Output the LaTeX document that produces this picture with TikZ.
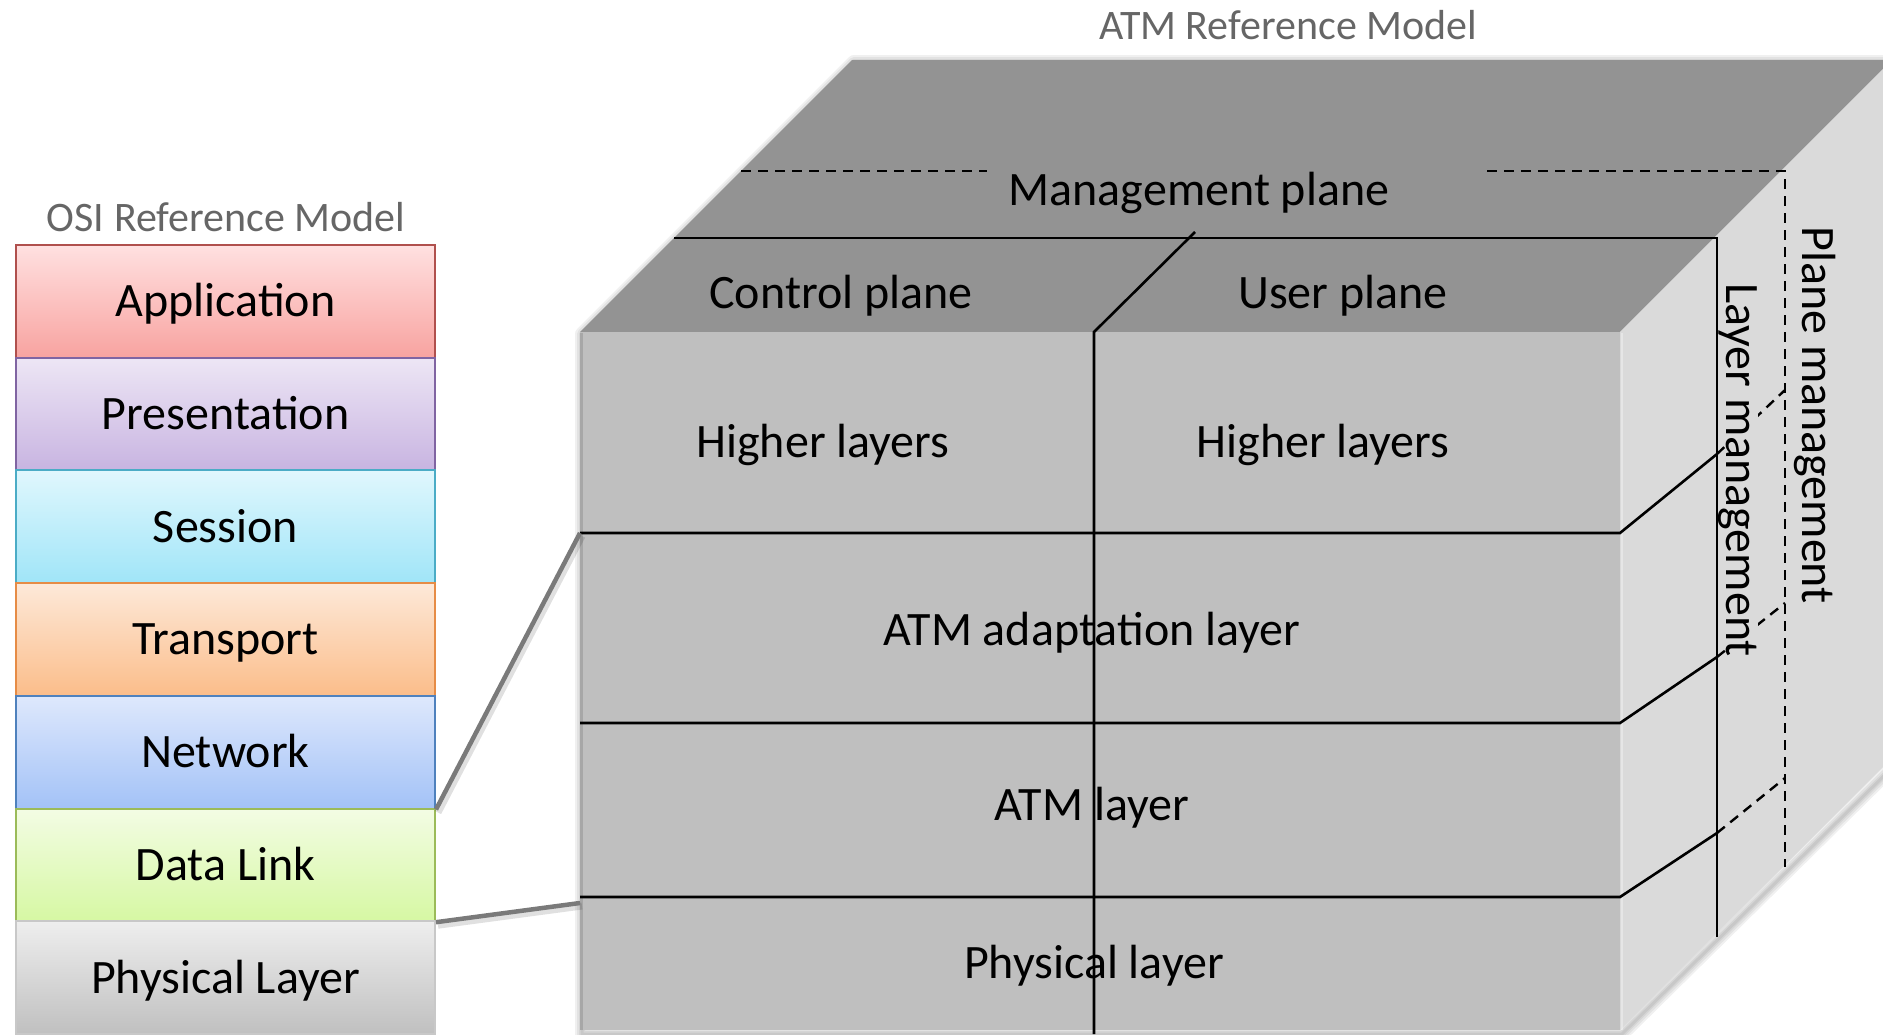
\documentclass[tikz,border=0pt]{standalone}
\usepackage{fontspec}
\setmainfont{Carlito}
\definecolor{topface}{HTML}{939393}
\definecolor{frontface}{HTML}{BFBFBF}
\definecolor{sideface}{HTML}{DADADA}
\definecolor{titlegray}{HTML}{666666}
\begin{document}
\begin{tikzpicture}[x=1pt,y=-1pt,
  lbl/.style={font=\fontsize{48}{58}\selectfont, text height=31pt, text depth=0pt, inner sep=0pt},
  title/.style={font=\fontsize{42}{50}\selectfont, text=titlegray, inner sep=0pt},
  band/.style={lbl, minimum width=419pt, minimum height=112.7pt, line width=2pt},
  edge/.style={line width=2.6pt, black},
  dashline/.style={line width=2.4pt, black, dash pattern=on 10pt off 7pt},
  link/.style={line width=4.5pt, draw=black!52},
  linkshadow/.style={line width=7pt, draw=black, opacity=0.12}]

\useasboundingbox (0,0) rectangle (1883,1034);

% ---------- OSI stack ----------
\node[title] (osititle) at (226,217) {OSI Reference Model};
\node[band, top color=red!12, bottom color={rgb,255:red,248;green,163;blue,160}, draw={rgb,255:red,176;green,80;blue,77}]
  (app) at (225.5,301.35) {Application};
\node[band, top color={rgb,255:red,237;green,230;blue,245}, bottom color={rgb,255:red,200;green,180;blue,225}, draw={rgb,255:red,128;green,100;blue,162}]
  (pres) at (225.5,414.05) {Presentation};
\node[band, top color={rgb,255:red,224;green,247;blue,253}, bottom color={rgb,255:red,160;green,229;blue,248}, draw={rgb,255:red,75;green,172;blue,198}]
  (sess) at (225.5,526.75) {Session};
\node[band, top color={rgb,255:red,253;green,233;blue,217}, bottom color={rgb,255:red,251;green,189;blue,138}, draw={rgb,255:red,230;green,140;blue,70}]
  (trans) at (225.5,639.45) {Transport};
\node[band, top color={rgb,255:red,222;green,232;blue,252}, bottom color={rgb,255:red,163;green,194;blue,247}, draw={rgb,255:red,79;green,129;blue,189}]
  (net) at (225.5,752.15) {Network};
\node[band, top color={rgb,255:red,243;green,252;blue,228}, bottom color={rgb,255:red,214;green,248;blue,163}, draw={rgb,255:red,155;green,187;blue,89}]
  (dl) at (225.5,864.85) {Data Link};
\node[band, top color={rgb,255:red,238;green,238;blue,238}, bottom color={rgb,255:red,192;green,192;blue,192}, draw={rgb,255:red,200;green,200;blue,200}]
  (phys) at (225.5,977.55) {Physical Layer};

% ---------- ATM cube: soft shadow ----------
\foreach \w in {14,10,6,3}
  \draw[black, opacity=0.06, line width=\w pt, line join=round]
    (582,334) -- (854,62) -- (1900,62) -- (1900,760) -- (1622,1034) -- (582,1034) -- cycle;

% ---------- ATM cube: faces ----------
\fill[topface] (580,332) -- (852,60) -- (1892,60) -- (1620,332) -- cycle;
\fill[sideface] (1620,332) -- (1892,60) -- (1892,758) -- (1620,1030) -- cycle;
\fill[frontface] (580,332) rectangle (1620,1030);
\draw[white, opacity=0.35, line width=2pt] (1622,333) -- (1622,1030);
\draw[black, opacity=0.12, line width=3pt] (581,333) -- (581,1030);

% named points of the cube
\coordinate (aal-l) at (580,533);
\coordinate (phy-l) at (580,903);
\coordinate (div-top) at (1094,332);
\coordinate (inner-br) at (1717,238);

% ---------- management plane (dashed back frame) ----------
\draw[dashline] (741,171) -- (987,171);
\draw[dashline] (1487,171) -- (1785,171) -- (1785,867);
\draw[dashline] (1717,454) -- (1785,390);
\draw[dashline] (1717,657) -- (1785,603);
\draw[dashline] (1717,833) -- (1785,778);

% ---------- control / user plane block ----------
\draw[edge] (674,238) -- (inner-br) -- (1717,937);
\draw[edge] (1094,1034) -- (div-top) -- (1195,232);
\draw[edge] (580,533) -- (1620,533) -- (1717,454);
\draw[edge] (580,723) -- (1620,723) -- (1717,657);
\draw[edge] (580,897) -- (1620,897) -- (1717,833);

% ---------- labels on the cube ----------
\node[title] (atmtitle) at (1288,25) {ATM Reference Model};
\node[lbl] (mgmt) at (1199,190) {Management plane};
\node[lbl] (ctrl) at (841,293) {Control plane};
\node[lbl] (user) at (1343,293) {User plane};
\node[lbl] (hl1) at (823,442) {Higher layers};
\node[lbl] (hl2) at (1323,442) {Higher layers};
\node[lbl] (aal) at (1092,630) {ATM adaptation layer};
\node[lbl] (atm) at (1092,805) {ATM layer};
\node[lbl] (phl) at (1094,963) {Physical layer};
\node[lbl, rotate=-90, fill=sideface] (laym) at (1742,470) {Layer management};
\node[lbl, rotate=-90] (planem) at (1818,415) {Plane management};
\draw[edge] (1717,380) -- (1717,700);

% ---------- links from the OSI stack to the cube ----------
\draw[linkshadow] ([shift={(2,3)}]net.south east) -- ([shift={(2,3)}]aal-l);
\draw[linkshadow] ([shift={(2,3)}]dl.south east) -- ([shift={(2,3)}]phy-l);
\draw[link] (net.south east) -- (aal-l);
\draw[link] (dl.south east) -- (phy-l);
\end{tikzpicture}
\end{document}
